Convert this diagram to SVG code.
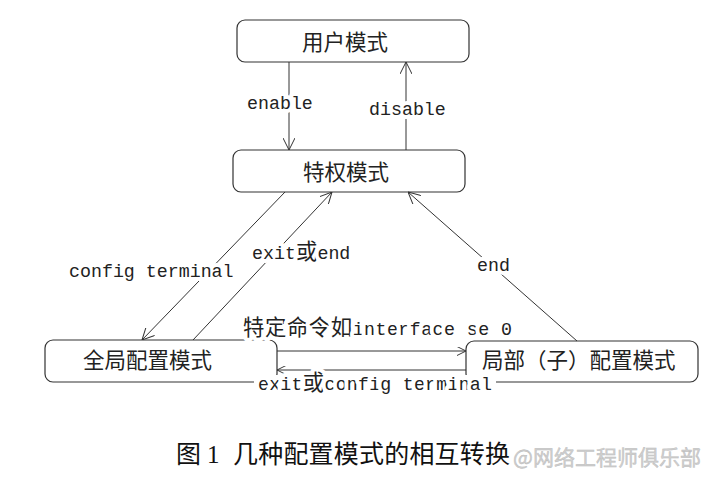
<svg xmlns="http://www.w3.org/2000/svg" width="720" height="484" viewBox="0 0 720 484">
<style>
.box{fill:#fff;stroke:#333;stroke-width:1.2}
.nt{font-family:"Noto Sans CJK SC","Noto Sans",sans-serif;font-size:21.5px;fill:#222}
.ln{fill:none;stroke:#333;stroke-width:1}
.lbl{font-family:"Liberation Mono","Noto Sans CJK SC",monospace;font-size:18.3px;fill:#222;stroke:#fff;stroke-width:8;stroke-linejoin:round;paint-order:stroke}
.cjk{font-family:"Noto Sans CJK SC",sans-serif;font-size:21.5px}
.cap{font-family:"Liberation Serif","Noto Sans CJK SC",serif;font-size:25px;fill:#111}
.wm{font-family:"Noto Sans CJK SC","Noto Sans",sans-serif;font-size:21px;fill:#d0d0d0;stroke:#b8b8b8;stroke-width:0.4}
</style>
<defs>
<marker id="arr" viewBox="0 0 12 12" refX="12" refY="6" markerWidth="12" markerHeight="12" markerUnits="userSpaceOnUse" orient="auto">
<path d="M0,0 L12,6 L0,12" fill="none" stroke="#333" stroke-width="1"/>
</marker>
<marker id="arrs" viewBox="0 0 12 12" refX="12" refY="6" markerWidth="9" markerHeight="9" markerUnits="userSpaceOnUse" orient="auto">
<path d="M0,0 L12,6 L0,12" fill="none" stroke="#333" stroke-width="1.3"/>
</marker>
</defs>
<rect width="720" height="484" fill="#fff"/>
<g id="user">
<rect class="box" x="237" y="20" width="232" height="42" rx="8"/>
<text class="nt" x="302" y="50">用户模式</text>
</g>
<g id="priv">
<rect class="box" x="233" y="150" width="232" height="42" rx="8"/>
<text class="nt" x="303" y="180">特权模式</text>
</g>
<g id="global">
<rect class="box" x="45" y="340" width="232" height="42" rx="8"/>
<text class="nt" x="83" y="368">全局配置模式</text>
</g>
<g id="local">
<rect class="box" x="466" y="341" width="232" height="41" rx="8"/>
<text class="nt" x="482" y="368">局部（子）配置模式</text>
</g>
<g id="connectors">
<line class="ln" x1="289" y1="62" x2="289" y2="150" marker-end="url(#arr)"/>
<line class="ln" x1="406" y1="150" x2="406" y2="62" marker-end="url(#arr)"/>
<line class="ln" x1="285" y1="192" x2="142" y2="340" marker-end="url(#arr)"/>
<line class="ln" x1="193" y1="340" x2="332" y2="192" marker-end="url(#arr)"/>
<line class="ln" x1="577" y1="341" x2="408" y2="192" marker-end="url(#arr)"/>
<line class="ln" x1="277" y1="351" x2="466" y2="351" marker-end="url(#arrs)"/>
<line class="ln" x1="466" y1="370" x2="277" y2="370" marker-end="url(#arrs)"/>
<rect x="254" y="375" width="242" height="22" fill="#fff"/>
<text class="lbl" x="247" y="109">enable</text>
<text class="lbl" x="369" y="115">disable</text>
<text class="lbl" x="69" y="277">config terminal</text>
<text class="lbl" x="252" y="259">exit<tspan class="cjk">或</tspan>end</text>
<text class="lbl" x="477" y="271">end</text>
<text class="lbl" x="243" y="335" textLength="269"><tspan class="cjk">特定命令如</tspan>interface se 0</text>
<text class="lbl" x="258" y="390" textLength="234">exit<tspan class="cjk">或</tspan>config terminal</text>
</g>
<g id="caption">
<text class="cap" x="176" y="463">图</text>
<text class="cap" x="207" y="463">1</text>
<text class="cap" x="233" y="463" textLength="277">几种配置模式的相互转换</text>
<text class="wm" x="513" y="465" textLength="188">@网络工程师俱乐部</text>
</g>
</svg>
